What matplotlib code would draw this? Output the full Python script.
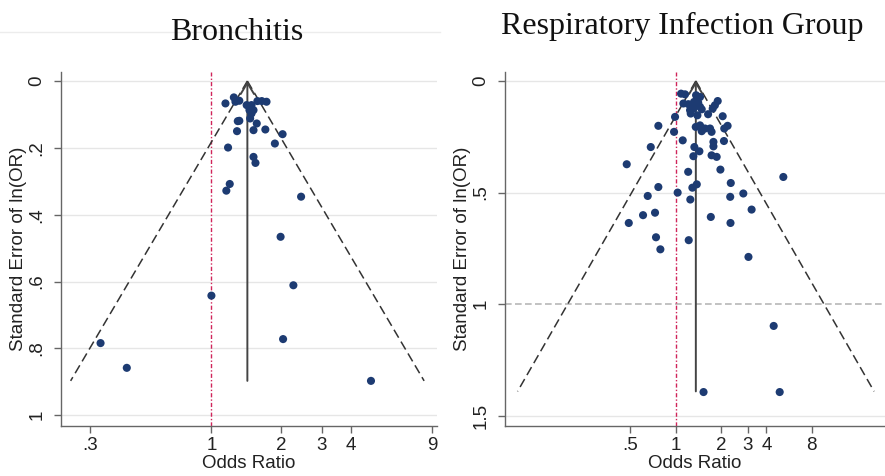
import matplotlib
matplotlib.use('Agg')
import matplotlib.pyplot as plt
import numpy as np
from matplotlib.ticker import FixedLocator, NullLocator
from matplotlib.lines import Line2D

plt.rcParams['font.family'] = ['Liberation Sans', 'DejaVu Sans']

# ---------------- data ----------------
bron_or = [1.15, 1.25, 1.27, 1.32, 1.42, 1.49, 1.52, 1.58, 1.65, 1.73,
           1.30, 1.32, 1.46, 1.47, 1.49, 1.57, 1.52, 1.71, 1.29, 2.03,
           1.88, 1.18, 1.52, 1.55, 1.20, 1.16, 2.44, 1.99, 2.26, 1.00,
           2.04, 0.332, 0.431, 4.89]
bron_se = [0.067, 0.049, 0.062, 0.059, 0.072, 0.072, 0.087, 0.060, 0.060, 0.062,
           0.120, 0.119, 0.087, 0.112, 0.097, 0.127, 0.147, 0.145, 0.150, 0.159,
           0.187, 0.199, 0.227, 0.245, 0.308, 0.328, 0.346, 0.466, 0.611, 0.642,
           0.772, 0.784, 0.858, 0.897]
bron_pooled = 1.43
bron_semax = 0.897

resp_or = [1.085, 1.153, 1.365, 1.45, 1.124, 1.213, 1.323, 1.41, 1.245, 1.31,
           1.258, 1.393, 1.45, 1.488, 1.90, 1.82, 1.76, 1.64, 2.05, 0.99,
           0.767, 0.975, 2.21, 2.10, 1.488, 1.45, 1.566, 1.69, 1.73, 1.358,
           1.113, 1.78, 1.78, 2.09, 0.683, 1.33, 1.436, 1.31, 1.73, 1.87,
           0.473, 1.21, 1.98, 5.18, 2.32, 1.38, 1.29, 0.767, 1.03, 2.81,
           0.652, 2.30, 1.25, 3.19, 0.607, 0.729, 1.71, 0.488, 2.31, 0.74,
           1.22, 0.791, 3.04, 4.47, 1.53, 4.90]
resp_se = [0.057, 0.060, 0.064, 0.072, 0.101, 0.104, 0.094, 0.097, 0.131, 0.124,
           0.146, 0.154, 0.116, 0.127, 0.090, 0.109, 0.124, 0.149, 0.158, 0.161,
           0.201, 0.228, 0.201, 0.213, 0.225, 0.199, 0.213, 0.213, 0.228, 0.206,
           0.266, 0.273, 0.293, 0.269, 0.296, 0.296, 0.315, 0.337, 0.333, 0.340,
           0.373, 0.407, 0.397, 0.430, 0.457, 0.463, 0.478, 0.475, 0.500, 0.504,
           0.515, 0.519, 0.531, 0.576, 0.601, 0.590, 0.609, 0.636, 0.636, 0.700,
           0.713, 0.754, 0.788, 1.097, 1.393, 1.393]
resp_pooled = 1.36
resp_semax = 1.39

bron_xticks = [0.3, 1, 2, 3, 4, 9]
bron_xlabels = ['.3', '1', '2', '3', '4', '9']
bron_yticks = [0, 0.2, 0.4, 0.6, 0.8, 1]
bron_ylabels = ['0', '.2', '.4', '.6', '.8', '1']

resp_xticks = [0.5, 1, 2, 3, 4, 8]
resp_xlabels = ['.5', '1', '2', '3', '4', '8']
resp_yticks = [0, 0.5, 1, 1.5]
resp_ylabels = ['0', '.5', '1', '1.5']

# ---------------- figure ----------------
W, H = 885, 476
fig = plt.figure(figsize=(W / 100, H / 100), dpi=100)
fig.add_artist(Line2D([0, 440 / W], [1 - 32 / H] * 2, color='#ececec', lw=1))

axL = fig.add_axes([61 / W, 1 - 426 / H, 376 / W, 354 / H])
axR = fig.add_axes([505 / W, 1 - 426 / H, 380 / W, 354 / H])

PT_COLOR = '#1d3b72'
TXT = '#222222'


def funnel(ax, ors, ses, pooled, semax, xlim, ylim, xticks, xlabels,
           yticks, ylabels, dashed_y=None):
    ax.set_xscale('log')
    for y in yticks:
        if dashed_y is not None and y == dashed_y:
            ax.axhline(y, color='#b8b8b8', lw=1.2, ls=(0, (4, 2)), zorder=0)
        else:
            ax.axhline(y, color='#e6e6e6', lw=1.0, zorder=0)
    ax.axvline(1, color='#d0245a', lw=1.0, ls=(0, (3, 1.5, 1, 1.5)), zorder=1)
    se_line = np.array([0.0, semax])
    lo = np.exp(np.log(pooled) - 1.96 * se_line)
    hi = np.exp(np.log(pooled) + 1.96 * se_line)
    ax.plot(lo, se_line, ls=(0, (6, 3)), color='#333333', lw=1.1, zorder=2)
    ax.plot(hi, se_line, ls=(0, (6, 3)), color='#333333', lw=1.1, zorder=2)
    ax.annotate('', xy=(pooled, 0), xytext=(pooled, semax),
                arrowprops=dict(arrowstyle='->,head_length=0.5,head_width=0.3',
                                color='#444444', lw=1.4, mutation_scale=16,
                                shrinkA=0, shrinkB=0), zorder=2)
    ax.scatter(ors, ses, s=34, color=PT_COLOR, edgecolors='none', zorder=3)
    ax.set_xlim(xlim)
    ax.set_ylim(ylim)
    ax.xaxis.set_major_locator(FixedLocator(xticks))
    ax.xaxis.set_minor_locator(NullLocator())
    ax.set_xticklabels(xlabels)
    ax.yaxis.set_major_locator(FixedLocator(yticks))
    ax.set_yticklabels(ylabels, rotation=90, va='center')
    for s in ['top', 'right']:
        ax.spines[s].set_visible(False)
    for s in ['left', 'bottom']:
        ax.spines[s].set_color('#666666')
        ax.spines[s].set_linewidth(1.0)
    ax.tick_params(direction='out', length=5, width=1, color='#666666',
                   labelsize=13.5, labelcolor=TXT, pad=3)
    ax.tick_params(axis='y', pad=6)
    ax.set_xlabel('Odds Ratio', fontsize=13.5, color=TXT, labelpad=1)
    ax.set_ylabel('Standard Error of ln(OR)', fontsize=13.5, color=TXT, labelpad=1)


funnel(axL, bron_or, bron_se, bron_pooled, bron_semax,
       (0.224, 9.43), (1.032, -0.027), bron_xticks, bron_xlabels,
       bron_yticks, bron_ylabels)
funnel(axR, resp_or, resp_se, resp_pooled, resp_semax,
       (0.0736, 24.5), (1.545, -0.040), resp_xticks, resp_xlabels,
       resp_yticks, resp_ylabels, dashed_y=1)

fig.text(237 / W, 1 - 32 / H, 'Bronchitis', family='Liberation Serif',
         fontsize=23, ha='center', va='center', color='#111111')
fig.text(682 / W, 1 - 26 / H, 'Respiratory Infection Group', family='Liberation Serif',
         fontsize=23, ha='center', va='center', color='#111111')

fig.savefig('out.png', dpi=100)
